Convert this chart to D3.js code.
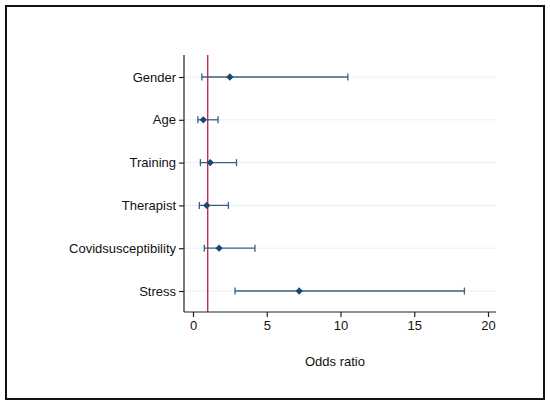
<!DOCTYPE html>
<html lang="en">
<head>
    <meta charset="UTF-8">
    <script type="text/javascript" src="https://cdn.jsdelivr.net/npm/d3@7"></script>
    <title>Odds ratio</title>
    <style>
        body { margin: 0; background: #fff; }
        text { font-family: "Liberation Sans", Arial, sans-serif; }
    </style>
</head>
<body>
<script type="text/javascript">
    // variables and their odds ratio with 95% CI
    var variables = ["Gender", "Age", "Training", "Therapist", "Covidsusceptibility", "Stress"];
    var oddsRatio = [2.5, 0.7, 1.17, 0.93, 1.77, 7.2];
    var lowerCI = [0.6, 0.33, 0.5, 0.43, 0.77, 2.85];
    var upperCI = [10.5, 1.7, 2.95, 2.4, 4.2, 18.4];
    var xTicks = [0, 5, 10, 15, 20];

    var svg = d3.select("body")
            .append("svg")
            .attr("width", 550)
            .attr("height", 405);

    // outer frame
    svg.append("rect")
            .attr("x", 6).attr("y", 6)
            .attr("width", 538).attr("height", 393)
            .attr("fill", "white")
            .attr("stroke", "#111")
            .attr("stroke-width", 2);

    var plotL = 184, plotR = 496, plotT = 55, plotB = 312;

    var x = d3.scaleLinear().domain([0, 20]).range([193, 488]);
    var y = d3.scalePoint().domain(variables).range([77, 291]);

    // light horizontal grid at each row
    svg.selectAll("line.grid")
            .data(variables)
            .enter()
            .append("line")
            .attr("class", "grid")
            .attr("x1", plotL).attr("x2", plotR)
            .attr("y1", function(d){ return y(d); })
            .attr("y2", function(d){ return y(d); })
            .attr("stroke", "#e8f0f3")
            .attr("stroke-width", 1);

    // reference line at OR = 1
    svg.append("line")
            .attr("x1", x(1)).attr("x2", x(1))
            .attr("y1", plotT).attr("y2", plotB)
            .attr("stroke", "#c10534")
            .attr("stroke-width", 1.2);

    var rows = svg.selectAll("g.row")
            .data(variables)
            .enter()
            .append("g")
            .attr("class", "row")
            .attr("transform", function(d){ return "translate(0," + y(d) + ")"; });

    rows.append("line")
            .attr("x1", function(d, i){ return x(lowerCI[i]); })
            .attr("x2", function(d, i){ return x(upperCI[i]); })
            .attr("stroke", "#3a5f85")
            .attr("stroke-width", 1.3);

    // caps
    rows.append("line")
            .attr("x1", function(d, i){ return x(lowerCI[i]); })
            .attr("x2", function(d, i){ return x(lowerCI[i]); })
            .attr("y1", -3.5).attr("y2", 3.5)
            .attr("stroke", "#3a5f85").attr("stroke-width", 1.3);
    rows.append("line")
            .attr("x1", function(d, i){ return x(upperCI[i]); })
            .attr("x2", function(d, i){ return x(upperCI[i]); })
            .attr("y1", -3.5).attr("y2", 3.5)
            .attr("stroke", "#3a5f85").attr("stroke-width", 1.3);

    rows.append("path")
            .attr("d", d3.symbol().type(d3.symbolDiamond2).size(34))
            .attr("transform", function(d, i){ return "translate(" + x(oddsRatio[i]) + ",0)"; })
            .attr("fill", "#1a476f");

    // axes
    var xAxis = svg.append("g")
            .attr("transform", "translate(0," + plotB + ")")
            .call(d3.axisBottom(x).tickValues(xTicks).tickSize(5).tickPadding(4));
    xAxis.select(".domain").attr("d", "M" + plotL + ",0H" + plotR);

    var yAxis = svg.append("g")
            .attr("transform", "translate(" + plotL + ",0)")
            .call(d3.axisLeft(y).tickSize(5).tickPadding(3));
    yAxis.select(".domain").attr("d", "M0," + plotT + "V" + plotB);

    svg.selectAll(".tick text")
            .attr("font-size", "13px")
            .attr("fill", "#111");
    svg.selectAll(".domain, .tick line")
            .attr("stroke", "#222")
            .attr("stroke-width", 1.2);

    svg.append("text")
            .attr("x", 335).attr("y", 366)
            .attr("text-anchor", "middle")
            .attr("font-size", "13px")
            .attr("fill", "#111")
            .text("Odds ratio");
</script>
</body>
</html>
